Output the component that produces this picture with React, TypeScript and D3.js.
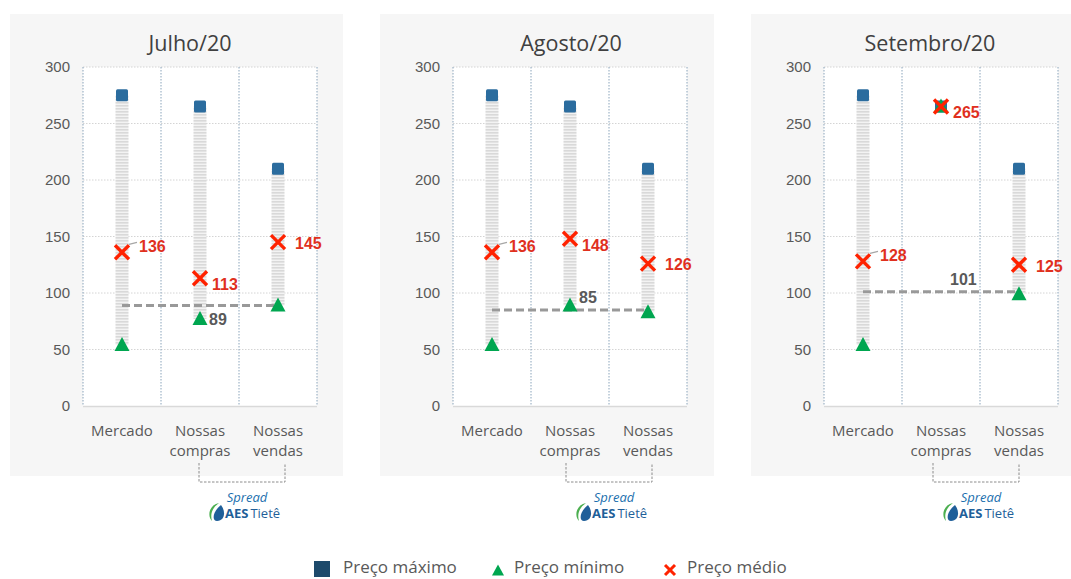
import React from "react";
import * as d3 from "d3";

// Monthly price ranges (R$/MWh) for market, our purchases and our sales
const months = ["Julho/20", "Agosto/20", "Setembro/20"];
const categories = ["Mercado", "Nossas compras", "Nossas vendas"];
const maxPrices = [
  [275, 265, 210],
  [275, 265, 210],
  [275, 265, 210],
];
const minPrices = [
  [54, 77, 89],
  [54, 89, 83],
  [54, 265, 99],
];
const avgPrices = [
  [136, 113, 145],
  [136, 148, 126],
  [128, 265, 125],
];
const spreads = [89, 85, 101];
const yTicks = [0, 50, 100, 150, 200, 250, 300];
const legendItems = ["Preço máximo", "Preço mínimo", "Preço médio"];

// layout
const W = 1071;
const H = 579;
const panelLefts = [10, 380, 751];
const panelWidths = [333, 334, 320];
const panelTop = 14;
const panelBottom = 476;
const plotDx = 73;
const plotW = 234;
const plotTop = 67;
const plotBottom = 406;
const titleDx = [180, 191, 179];
const bracketDx = [189, 186, 182];
const spreadSide = [1, -1, -1];
// label nudges per category (relative to the X mark)
const avgLabelDx = [17, 12, 17];
const avgLabelDy = [-6, 6, 1];

const COLORS = {
  panel: "#f6f6f6",
  max: "#2b6c9e",
  maxLegend: "#1d4a6b",
  min: "#00a650",
  avg: "#ff2200",
  avgLabel: "#e0301e",
  text: "#595959",
  grid: "#d4d4d4",
  vgrid: "#8aa4bb",
  spread: "#999999",
};

const ARIAL = "'Liberation Sans', Arial, sans-serif";
const SANS = "'Open Sans', 'Noto Sans', sans-serif";

const y = d3.scaleLinear().domain([0, 300]).range([plotBottom, plotTop]);

function XMark({ cx, cy, r, color, sw }: { cx: number; cy: number; r: number; color: string; sw: number }) {
  return (
    <g stroke={color} strokeWidth={sw} strokeLinecap="butt">
      <line x1={cx - r} y1={cy - r} x2={cx + r} y2={cy + r} />
      <line x1={cx - r} y1={cy + r} x2={cx + r} y2={cy - r} />
    </g>
  );
}

function triPath(cx: number, cy: number, w: number, h: number) {
  return `M${cx - w / 2},${cy + h / 2}L${cx},${cy - h / 2}L${cx + w / 2},${cy + h / 2}Z`;
}

function Logo({ cx }: { cx: number }) {
  const ix = cx - 31;
  const iy = 512;
  return (
    <g>
      <text x={cx + 5} y={502} textAnchor="middle" fontFamily={SANS} fontStyle="italic" fontSize={13} fill="#1b6fae">
        Spread
      </text>
      {/* leaf emblem */}
      <path
        d={`M${ix + 8},${iy - 9} C${ix - 2},${iy - 7} ${ix - 4},${iy + 4} ${ix + 1},${iy + 9} C${ix - 1},${iy + 2} ${ix + 1},${iy - 4} ${ix + 8},${iy - 9}Z`}
        fill="#4caf50"
      />
      <path
        d={`M${ix + 10},${iy - 7} C${ix + 15},${iy - 1} ${ix + 14},${iy + 9} ${ix + 6},${iy + 9} C${ix + 1},${iy + 9} ${ix + 1},${iy} ${ix + 10},${iy - 7}Z`}
        fill="#1f5f99"
      />
      <text x={cx - 17} y={518} fontFamily={SANS} fontSize={13} fill="#1f5f99">
        <tspan fontWeight="bold">AES</tspan>
        <tspan dx={2}>Tietê</tspan>
      </text>
    </g>
  );
}

function Panel({ idx }: { idx: number }) {
  const left = panelLefts[idx];
  const x0 = left + plotDx;
  const x = d3.scaleBand<string>().domain(categories).range([x0, x0 + plotW]).padding(0);
  const bw = x.bandwidth();
  const cxOf = (c: string) => (x(c) as number) + bw / 2;
  const spreadY = y(spreads[idx]);
  const cMer = cxOf(categories[0]);
  const cCom = cxOf(categories[1]);
  const cVen = cxOf(categories[2]);
  const bx1 = left + bracketDx[idx];
  const bx2 = bx1 + 86;
  const barW = 13;

  return (
    <g>
      <rect x={left} y={panelTop} width={panelWidths[idx]} height={panelBottom - panelTop} fill={COLORS.panel} />
      <rect x={x0} y={plotTop} width={plotW} height={plotBottom - plotTop} fill="#ffffff" />
      <text x={left + titleDx[idx]} y={51} textAnchor="middle" fontFamily={SANS} fontSize={21.5} fill="#404040">
        {months[idx]}
      </text>

      {/* horizontal gridlines + y tick labels */}
      {yTicks.map((t) => (
        <g key={t}>
          {t > 0 && (
            <line x1={x0} x2={x0 + plotW} y1={y(t)} y2={y(t)} stroke={COLORS.grid} strokeWidth={1} strokeDasharray="1.5,1.5" />
          )}
          <text x={x0 - 13} y={y(t)} dy="0.35em" textAnchor="end" fontFamily={ARIAL} fontSize={15} fill={COLORS.text}>
            {t}
          </text>
        </g>
      ))}
      {/* vertical category separators */}
      {[0, 1, 2, 3].map((i) => (
        <line
          key={i}
          x1={x0 + i * bw}
          x2={x0 + i * bw}
          y1={plotTop}
          y2={plotBottom}
          stroke={COLORS.vgrid}
          strokeWidth={1}
          strokeDasharray="1.5,1.5"
        />
      ))}
      <line x1={x0} x2={x0 + plotW} y1={plotBottom + 0.5} y2={plotBottom + 0.5} stroke="#d9d9d9" strokeWidth={1.5} />

      {/* category labels */}
      {categories.map((c) => {
        const words = c.split(" ");
        return (
          <text key={c} x={cxOf(c)} y={436} textAnchor="middle" fontFamily={SANS} fontSize={15} fill={COLORS.text}>
            {words.map((w, k) => (
              <tspan key={k} x={cxOf(c)} dy={k === 0 ? 0 : 20}>
                {w}
              </tspan>
            ))}
          </text>
        );
      })}

      {/* min-max range bars */}
      {categories.map((c, j) => {
        const top = y(maxPrices[idx][j]);
        const bot = y(minPrices[idx][j]);
        return bot - top > 0.5 ? (
          <rect key={c} x={cxOf(c) - barW / 2} y={top} width={barW} height={bot - top} fill="url(#stripes)" />
        ) : null;
      })}

      {/* spread line */}
      <line x1={cMer} x2={cVen} y1={spreadY} y2={spreadY} stroke={COLORS.spread} strokeWidth={3} strokeDasharray="8,4" />

      {/* markers */}
      {categories.map((c, j) => {
        const cx = cxOf(c);
        return (
          <g key={c}>
            <rect x={cx - 6} y={y(maxPrices[idx][j]) - 6} width={12} height={12} rx={1.5} fill={COLORS.max} />
            <path d={triPath(cx, y(minPrices[idx][j]) - 1, 15, 14)} fill={COLORS.min} />
          </g>
        );
      })}
      {categories.map((c, j) => {
        const cx = cxOf(c);
        const cy = y(avgPrices[idx][j]);
        return (
          <g key={c}>
            {j === 0 && <line x1={cx + 7} y1={cy - 8} x2={cx + 15} y2={cy - 10} stroke="#a6a6a6" strokeWidth={1.2} />}
            <XMark cx={cx} cy={cy} r={7} color={COLORS.avg} sw={3.4} />
            <text
              x={cx + avgLabelDx[j]}
              y={cy + avgLabelDy[j]}
              dy="0.36em"
              fontFamily={ARIAL}
              fontWeight="bold"
              fontSize={16}
              fill={COLORS.avgLabel}
            >
              {avgPrices[idx][j]}
            </text>
          </g>
        );
      })}

      {/* spread label */}
      <text
        x={cCom + 9}
        y={spreadY + (spreadSide[idx] > 0 ? 14 : -13)}
        dy="0.36em"
        fontFamily={ARIAL}
        fontWeight="bold"
        fontSize={16}
        fill={COLORS.text}
      >
        {spreads[idx]}
      </text>

      {/* bracket linking purchases and sales to the spread logo */}
      <path
        d={`M${bx1},463V482H${bx2}V463`}
        fill="none"
        stroke="#8c8c8c"
        strokeWidth={1}
        strokeDasharray="2.5,1.5"
      />
      <Logo cx={(bx1 + bx2) / 2} />
    </g>
  );
}

export default function App() {
  const legendX = [314, 491, 663];
  const legendTextX = [343, 514, 687];
  const ly = 567;
  return (
    <svg width={W} height={H} style={{ position: "absolute", left: 0, top: 0, background: "#ffffff" }}>
      <defs>
        <pattern id="stripes" width={4} height={3} patternUnits="userSpaceOnUse">
          <rect width={4} height={3} fill="#f3f3f3" />
          <rect width={4} height={1.6} fill="#d9d9d9" />
        </pattern>
      </defs>
      {months.map((m, i) => (
        <Panel key={m} idx={i} />
      ))}

      {/* legend */}
      <rect x={legendX[0]} y={ly - 6} width={16} height={16} fill={COLORS.maxLegend} />
      <path d={triPath(legendX[1] + 7, ly + 3, 12, 11)} fill={COLORS.min} />
      <XMark cx={legendX[2] + 7} cy={ly + 3} r={5} color={COLORS.avg} sw={3} />
      {legendItems.map((t, i) => (
        <text key={t} x={legendTextX[i]} y={ly} dy="0.35em" fontFamily={SANS} fontSize={17} fill={COLORS.text}>
          {t}
        </text>
      ))}
    </svg>
  );
}
